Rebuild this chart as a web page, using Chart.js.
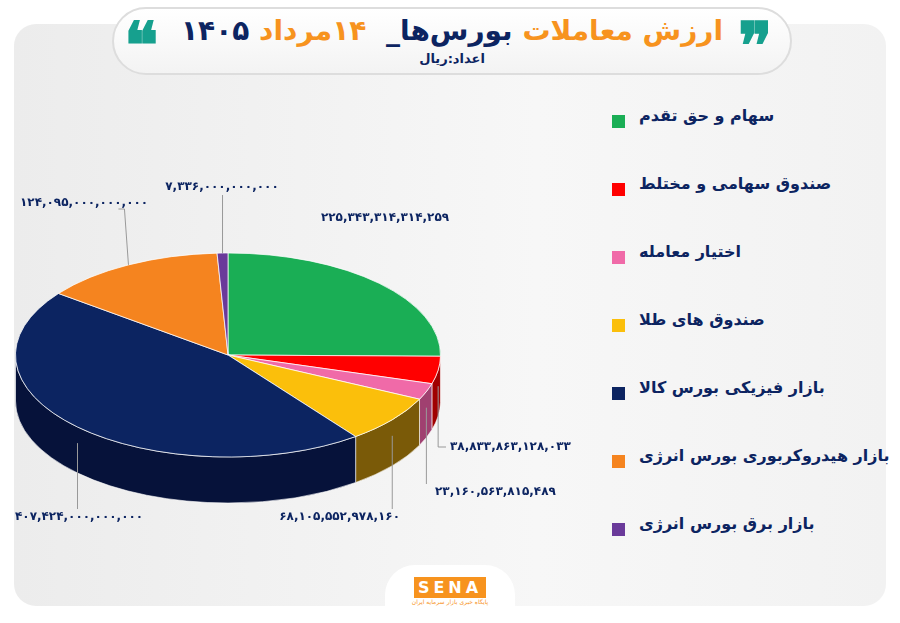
<!DOCTYPE html>
<html><head><meta charset="utf-8">
<script src="https://cdn.jsdelivr.net/npm/chart.js@4"></script>
<style>
body{margin:0;width:900px;height:623px;background:#fff;font-family:"DejaVu Sans",sans-serif;overflow:hidden;position:relative}
#card{position:absolute;left:14px;top:24px;width:872px;height:582px;border-radius:22px;background:linear-gradient(90deg,#ececec,#f7f7f7 60%,#f2f2f2)}
#title{position:absolute;left:112px;top:7px;width:680px;height:68px;border-radius:34px;background:linear-gradient(#fff,#f3f3f3);border:2px solid #ddd;box-sizing:border-box;text-align:center;direction:rtl}
#t1{font-size:28px;font-weight:bold;line-height:40px;margin-top:2px;color:#f7931e}
#t2{font-size:13px;font-weight:bold;color:#0c2461;line-height:16px}
.q{position:absolute;top:14px;font-size:64px;font-weight:bold;color:#16a08e;line-height:64px;font-family:"DejaVu Serif"}
#legend{position:absolute;left:612px;top:106px;direction:ltr}
.li{height:68px;display:flex;align-items:flex-start;font-size:16px;font-weight:bold;color:#0c2461;white-space:nowrap}
.li span.sq{width:13px;height:13px;margin-right:14px;margin-top:9px;display:inline-block;flex:none}
#logo{position:absolute;left:385px;top:565px;width:130px;height:58px;border-radius:30px 30px 0 0;background:#fff;text-align:center}
#logo b{display:inline-block;margin-top:12px;background:#f7931e;color:#fff;font-size:16px;letter-spacing:4px;padding:1px 4px}
#logo div{font-size:6px;color:#f7931e}
canvas{position:absolute;left:0;top:0}
</style></head><body>
<div id="card"></div>
<div id="title"><div id="t1">ارزش معاملات <span style="color:#0c2461">بورس‌ها_</span>&nbsp; ۱۴مرداد <span style="color:#0c2461">۱۴۰۵</span></div><div id="t2">اعداد:ریال</div></div>
<div class="q" style="left:124px">❝</div><div class="q" style="left:738px">❞</div>
<div id="legend"></div>
<div id="logo"><b>SENA</b><div>پایگاه خبری بازار سرمایه ایران</div></div>
<canvas id="c" width="900" height="623"></canvas>
<script>
const categories=["سهام و حق تقدم","صندوق سهامی و مختلط","اختیار معامله","صندوق های طلا","بازار فیزیکی بورس کالا","بازار هیدروکربوری بورس انرژی","بازار برق بورس انرژی"];
const values=[225343314314259,38833863128033,23160563815489,68105552978160,407424000000000,124095000000000,7336000000000];
const colors=["#1aae55","#ff0000","#f06aa8","#fbbf0b","#0c2461","#f5841f","#6a3a9a"];
const sideColors=["#0f7a3b","#a00000","#a04070","#7a5a08","#06123a","#a8560f","#432260"];
const labelPos=[[385,218,"center",null],[450,447,"left",1],[435,492,"left",1],[400,517,"right",1],[15,517,"left",1],[20,203,"left",1],[222,187,"center",1]];
const fa=s=>s.replace(/\d/g,d=>"۰۱۲۳۴۵۶۷۸۹"[d]);
const lg=document.getElementById('legend');
categories.forEach((c,i)=>{lg.innerHTML+=`<div class="li"><span class="sq" style="background:${colors[i]}"></span><span dir="rtl">${c}</span></div>`});
const K=0.48,DEPTH=46;
const p3d={id:'p3d',
beforeDatasetsDraw(ch){const ctx=ch.ctx;const els=ch.getDatasetMeta(0).data;
 els.forEach((e,i)=>{let a0=Math.max(e.startAngle,0),a1=Math.min(e.endAngle,Math.PI);
  if(a1<=a0)return;const r=e.outerRadius,cx=e.x,cy=e.y;
  ctx.save();ctx.beginPath();ctx.ellipse(cx,cy,r,r*K,0,a0,a1);ctx.ellipse(cx,cy+DEPTH,r,r*K,0,a1,a0,true);ctx.closePath();
  ctx.fillStyle=sideColors[i];ctx.fill();ctx.strokeStyle='rgba(255,255,255,0.6)';ctx.lineWidth=1;ctx.stroke();ctx.restore();});
 const e=els[0];ctx.save();ctx.translate(e.x,e.y);ctx.scale(1,K);ctx.translate(-e.x,-e.y);},
afterDatasetsDraw(ch){const ctx=ch.ctx;ctx.restore();
 const els=ch.getDatasetMeta(0).data;
 els.forEach((e,i)=>{const m=(e.startAngle+e.endAngle)/2;const r=e.outerRadius;
  let ax=e.x+r*Math.cos(m),ay=e.y+r*K*Math.sin(m);if(Math.sin(m)>0)ay+=DEPTH*0.35;
  const [tx,ty,al,ln]=labelPos[i];
  ctx.font='bold 12px "DejaVu Sans"';ctx.fillStyle='#0c2461';ctx.textAlign=al;ctx.textBaseline='middle';
  ctx.fillText(fa(values[i].toLocaleString('en-US')),tx,ty);
  if(ln){ctx.strokeStyle='#999';ctx.lineWidth=1;ctx.beginPath();
   if(i===1){ctx.moveTo(ax,ay);ctx.lineTo(ax,ty);ctx.lineTo(tx-4,ty);}
   else if(i===5){ctx.moveTo(ax,ay);ctx.lineTo(ax-4,ty+6);ctx.lineTo(ax-10,ty+6);}
   else{ctx.moveTo(ax,ay);ctx.lineTo(ax,ty+(ty<ay?8:-8));}
   ctx.stroke();}
 });}};
new Chart(document.getElementById('c'),{type:'pie',
 data:{labels:categories,datasets:[{data:values,backgroundColor:colors,borderColor:'#fff',borderWidth:1}]},
 options:{responsive:false,animation:false,layout:{padding:{left:15,right:459,top:142,bottom:55}},
  plugins:{legend:{display:false},tooltip:{enabled:false}}},plugins:[p3d]});
</script></body></html>
